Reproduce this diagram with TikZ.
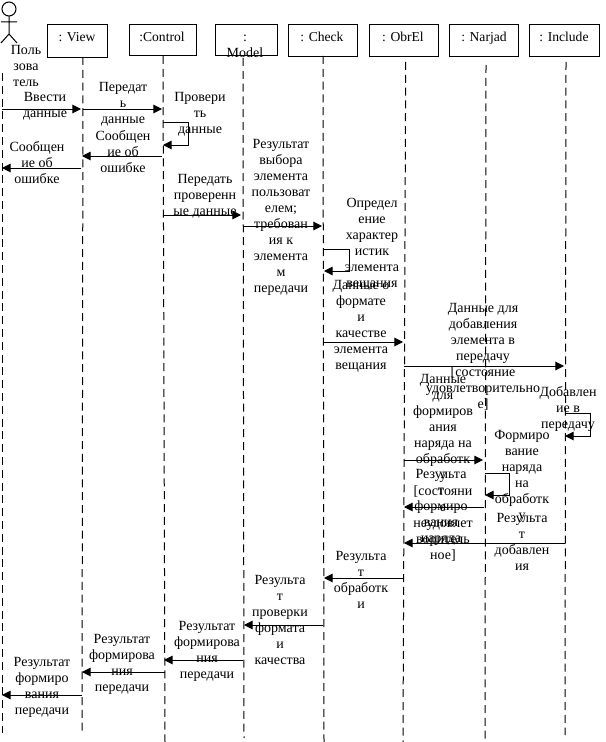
\documentclass[tikz,border=0pt]{standalone}
\usepackage{fontspec}
\setmainfont{Liberation Serif}
\usetikzlibrary{arrows.meta}
\tikzset{
  px/.style={x=0.75pt,y=-0.75pt},
  headbox/.style={draw=black,fill=white,line width=0.75pt,inner sep=0pt,anchor=north west},
  hlbl/.style={anchor=north,align=center,inner sep=0pt,yshift=6pt,font=\fontsize{10.2}{12}\selectfont,execute at begin node={\rule{0pt}{9pt}}},
  lbl/.style={anchor=north,align=center,inner sep=0pt,yshift=3.75pt,font=\fontsize{10.5}{12}\selectfont,execute at begin node={\rule{0pt}{9pt}}},
  life/.style={draw=black,line width=0.75pt,dash pattern=on 6pt off 3.6pt},
  msg/.style={draw=black,line width=0.75pt,-{Triangle[length=6.5pt,width=6.5pt]}},
  stick/.style={draw=black,line width=0.75pt},
}
\begin{document}
\begin{tikzpicture}[px]
\useasboundingbox (0,0) rectangle (606,742);
% heads
\node[headbox,minimum width=45pt,minimum height=24.75pt] (view) at (47,24) {};
\node[headbox,minimum width=50.25pt,minimum height=23.25pt] (control) at (129,24) {};
\node[headbox,minimum width=46.5pt,minimum height=23.25pt] (model) at (215,24) {};
\node[headbox,minimum width=51.75pt,minimum height=24pt] (check) at (288,24) {};
\node[headbox,minimum width=51.75pt,minimum height=24pt] (obrel) at (369,24) {};
\node[headbox,minimum width=51.75pt,minimum height=24pt] (narjad) at (449,24) {};
\node[headbox,minimum width=52.5pt,minimum height=24pt] (include) at (529,24) {};
\node[hlbl] (tview) at (77,37) {: View};
\node[hlbl] (tcontrol) at (162,37) {:Control};
\node[lbl] (tmodel) at (245,40) {:\\Model};
\node[hlbl] (tcheck) at (322,37) {: Check};
\node[hlbl] (tobrel) at (403,37) {: ObrEl};
\node[hlbl] (tnarjad) at (484,37) {: Narjad};
\node[hlbl] (tinclude) at (564,37) {: Include};
% actor
\draw[stick] (9,9) circle (5.25pt);
\coordinate (neck) at (9,16);
\coordinate (hip) at (9,34);
\coordinate (armL) at (1,22);
\coordinate (armR) at (17,22);
\coordinate (legL) at (1,43);
\coordinate (legR) at (17,43);
\draw[stick] (neck) -- (hip) (armL) -- (armR) (legL) -- (hip) -- (legR);
\node[lbl] (tuser) at (26,50) {Поль\\зова\\тель};
% lifelines
\coordinate (lu0) at (2,73);   \coordinate (lu1) at (2,733);
\coordinate (lv0) at (83,57);  \coordinate (lv1) at (82,735);
\coordinate (lc0) at (163,56); \coordinate (lc1) at (165,742);
\coordinate (lm0) at (243,58); \coordinate (lm1) at (244,738);
\coordinate (lk0) at (323,56); \coordinate (lk1) at (324,742);
\coordinate (lo0) at (405.7,62); \coordinate (lo1) at (403,742);
\coordinate (ln0) at (486,65); \coordinate (ln1) at (485,742);
\coordinate (li0) at (566,62); \coordinate (li1) at (565,735);
\draw[life] (lu0) -- (lu1);
\draw[life] (lv0) -- (lv1);
\draw[life] (lc0) -- (lc1);
\draw[life] (lm0) -- (lm1);
\draw[life] (lk0) -- (lk1);
\draw[life] (lo0) -- (lo1);
\draw[life] (ln0) -- (ln1);
\draw[life] (li0) -- (li1);
% message end points
\coordinate (a1) at (2,109);   \coordinate (b1) at (81,109);
\coordinate (a2) at (83,109);  \coordinate (b2) at (162,109);
\coordinate (a3) at (163,122); \coordinate (p3) at (188,122); \coordinate (q3) at (188,145); \coordinate (b3) at (163,145);
\coordinate (a4) at (162,156); \coordinate (b4) at (82,156);
\coordinate (a5) at (81,168);  \coordinate (b5) at (2,168);
\coordinate (a6) at (164,215); \coordinate (b6) at (241,215);
\coordinate (a7) at (243,226); \coordinate (b7) at (322,226);
\coordinate (a8) at (324,249); \coordinate (p8) at (349,249); \coordinate (q8) at (349,271); \coordinate (b8) at (324,271);
\coordinate (a9) at (323,342); \coordinate (b9) at (403,342);
\coordinate (a10) at (404,366); \coordinate (b10) at (564,366);
\coordinate (a11) at (565,413); \coordinate (p11) at (590,413); \coordinate (q11) at (590,436); \coordinate (b11) at (565,436);
\coordinate (a12) at (404,460); \coordinate (b12) at (483,460);
\coordinate (a13) at (485,473); \coordinate (p13) at (509,473); \coordinate (q13) at (509,495); \coordinate (b13) at (485,495);
\coordinate (a14) at (484,507); \coordinate (b14) at (404,507);
\coordinate (a15) at (565,543); \coordinate (b15) at (404,543);
\coordinate (a16) at (404,578); \coordinate (b16) at (324,578);
\coordinate (a17) at (323,625); \coordinate (b17) at (244,625);
\coordinate (a18) at (243,660); \coordinate (b18) at (164,660);
\coordinate (a19) at (165,672); \coordinate (b19) at (82,672);
\coordinate (a20) at (82,695); \coordinate (b20) at (2,695);
% messages
\draw[msg] (a1) -- (b1);
\draw[msg] (a2) -- (b2);
\draw[msg] (a3) -- (p3) -- (q3) -- (b3);
\draw[msg] (a4) -- (b4);
\draw[msg] (a5) -- (b5);
\draw[msg] (a6) -- (b6);
\draw[msg] (a7) -- (b7);
\draw[msg] (a8) -- (p8) -- (q8) -- (b8);
\draw[msg] (a9) -- (b9);
\draw[msg] (a10) -- (b10);
\draw[msg] (a11) -- (p11) -- (q11) -- (b11);
\draw[msg] (a12) -- (b12);
\draw[msg] (a13) -- (p13) -- (q13) -- (b13);
\draw[msg] (a14) -- (b14);
\draw[msg] (a15) -- (b15);
\draw[msg] (a16) -- (b16);
\draw[msg] (a17) -- (b17);
\draw[msg] (a18) -- (b18);
\draw[msg] (a19) -- (b19);
\draw[msg] (a20) -- (b20);
% labels
\node[lbl] (t1) at (45,97) {Ввести\\данные};
\node[lbl] (t2) at (123,87) {Передат\\ь\\данные};
\node[lbl] (t3) at (200,97) {Провери\\ть\\данные};
\node[lbl] (t4) at (123,135) {Сообщен\\ие об\\ошибке};
\node[lbl] (t5) at (37,146) {Сообщен\\ие об\\ошибке};
\node[lbl] (t6) at (205,179) {Передать\\проверенн\\ые данные};
\node[lbl] (t7) at (281,144) {Результат\\выбора\\элемента\\пользоват\\елем;\\требован\\ия к\\элемента\\м\\передачи};
\node[lbl] (t8) at (372,203) {Определ\\ение\\характер\\истик\\элемента\\вещания};
\node[lbl] (t9) at (361,285) {Данные о\\формате\\и\\качестве\\элемента\\вещания};
\node[lbl] (t10) at (483,308) {Данные для\\добавления\\элемента в\\передачу\\{[}состояние\\удовлетворительно\\е{]}};
\node[lbl] (t11) at (568,391) {Добавлен\\ие в\\передачу};
\node[lbl] (t12) at (443,379) {Данные\\для\\формиров\\ания\\наряда на\\обработк\\у};
\node[lbl] (t13) at (522,435) {Формиро\\вание\\наряда\\на\\обработк\\у};
\node[lbl] (t14) at (441,474) {Результа\\т\\формиро\\вания\\наряда};
\node[lbl] (t14b) at (443,491) {{[}состояни\\е\\неудовлет\\воритель\\ное{]}};
\node[lbl] (t15) at (522,518) {Результа\\т\\добавлен\\ия};
\node[lbl] (t16) at (361,556) {Результа\\т\\обработк\\и};
\node[lbl] (t17) at (280,580) {Результа\\т\\проверки\\формата\\и\\качества};
\node[lbl] (t18) at (207,626) {Результат\\формирова\\ния\\передачи};
\node[lbl] (t19) at (122,639) {Результат\\формирова\\ния\\передачи};
\node[lbl] (t20) at (42,662) {Результат\\формиро\\вания\\передачи};
\end{tikzpicture}
\end{document}
